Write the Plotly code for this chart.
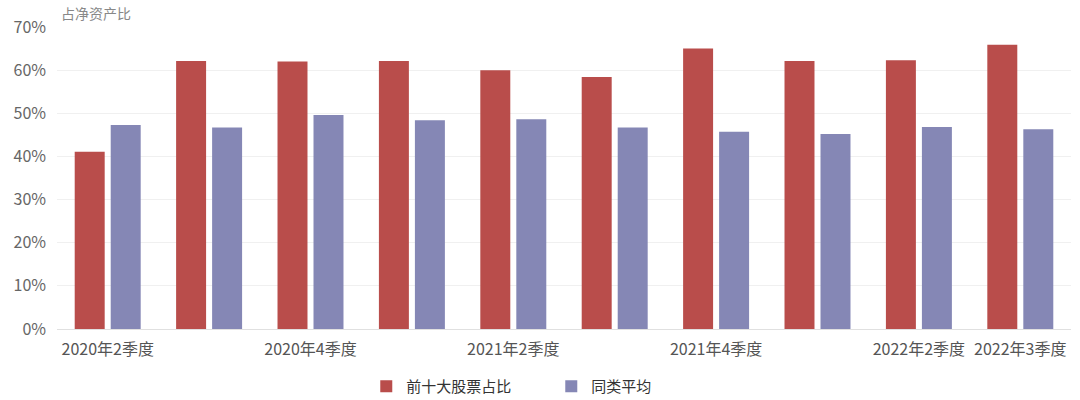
import plotly.graph_objects as go

categories = ["2020年2季度", "2020年3季度", "2020年4季度", "2021年1季度", "2021年2季度",
              "2021年3季度", "2021年4季度", "2022年1季度", "2022年2季度", "2022年3季度"]
top10_share = [41.1, 62.1, 62.0, 62.1, 60.0, 58.4, 65.0, 62.1, 62.3, 65.9]
peer_avg = [47.3, 46.7, 49.6, 48.4, 48.6, 46.7, 45.7, 45.2, 46.8, 46.3]
shown_ticks = ["2020年2季度", "2020年4季度", "2021年2季度", "2021年4季度", "2022年2季度", "2022年3季度"]
y_ticks = [0, 10, 20, 30, 40, 50, 60, 70]
y_tick_text = [f"{v}%" for v in y_ticks]

FONT = "Noto Sans CJK SC"

fig = go.Figure()
fig.add_trace(go.Bar(x=categories, y=top10_share, name="前十大股票占比",
                     marker=dict(color="#B94D4B", line=dict(width=0))))
fig.add_trace(go.Bar(x=categories, y=peer_avg, name="同类平均",
                     marker=dict(color="#8587B5", line=dict(width=0))))

fig.update_layout(
    width=1080, height=400,
    margin=dict(l=57, r=9, t=27, b=71, autoexpand=False),
    paper_bgcolor="white", plot_bgcolor="white",
    font=dict(family=FONT, size=16, color="#555"),
    barmode="group", bargap=0.29, bargroupgap=0.167,
    showlegend=True,
    legend=dict(orientation="h", x=0.305, xanchor="left", y=-0.19, yanchor="middle",
                font=dict(size=15, color="#333"), itemwidth=30, traceorder="normal",
                entrywidth=140),
    xaxis=dict(type="category", tickmode="array", tickvals=shown_ticks, ticktext=shown_ticks,
               showgrid=False, showline=True, linecolor="#E0E0E0", linewidth=1,
               ticks="", tickfont=dict(size=16, color="#555"), ticklabelstandoff=6,
               automargin=False),
    yaxis=dict(range=[0, 70], tickmode="array", tickvals=y_ticks, ticktext=y_tick_text,
               showgrid=True, gridcolor="#F0F0F0", gridwidth=1, zeroline=False,
               ticks="", tickfont=dict(size=16, color="#666"), ticklabelstandoff=10,
               automargin=False),
    annotations=[dict(text="占净资产比", xref="paper", yref="paper", x=0.002, y=1.0,
                      xanchor="left", yanchor="bottom", yshift=2, showarrow=False,
                      font=dict(size=14, color="#888"))],
)

fig.write_html("out.html", config={"displayModeBar": False},
               post_script="document.body.style.margin='0';")
